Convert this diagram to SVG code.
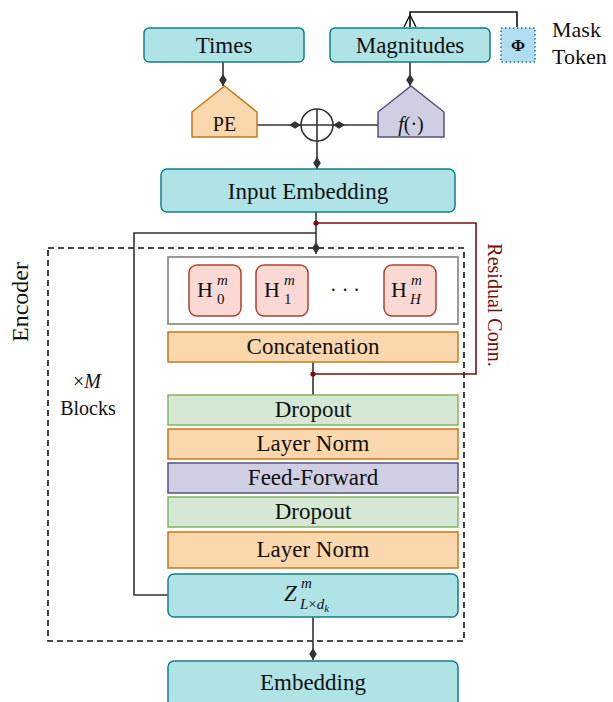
<svg xmlns="http://www.w3.org/2000/svg" width="613" height="702" viewBox="0 0 613 702" font-family="'Liberation Serif', 'DejaVu Serif', serif">
<style>
text{font-family:'Liberation Serif','DejaVu Serif',serif;fill:#111;}
.lbl{font-size:23px;text-anchor:middle;}
.teal{fill:#b0e3e6;stroke:#0e8088;stroke-width:1.5;}
.orange{fill:#fad7ac;stroke:#c7781a;stroke-width:1.5;}
.purple{fill:#d0cee2;stroke:#56517e;stroke-width:1.5;}
.green{fill:#d5e8d4;stroke:#82b366;stroke-width:1.5;}
.head{fill:#fad9d5;stroke:#ae4132;stroke-width:1.5;}
.conn{fill:none;stroke:#333;stroke-width:1.6;}
.res{fill:none;stroke:#7a0c0c;stroke-width:1.6;}
.it{font-style:italic;}
</style>
<defs>
<marker id="dia" markerUnits="userSpaceOnUse" markerWidth="14" markerHeight="10" viewBox="0 -5 14 10" refX="13" refY="0" orient="auto">
<path d="M1,0 L7,-3.8 L13,0 L7,3.8 Z" fill="#333"/>
</marker>
</defs>

<g id="encoder-frame">
<rect x="48" y="248" width="416" height="393" fill="none" stroke="#111" stroke-width="1.6" stroke-dasharray="6,4"/>
<text transform="translate(28,302) rotate(-90)" font-size="24" text-anchor="middle">Encoder</text>
<text x="87" y="388" font-size="20" text-anchor="middle">×<tspan class="it">M</tspan></text>
<text x="88" y="415" font-size="20" text-anchor="middle">Blocks</text>
</g>

<g id="connectors">
<path class="conn" d="M223,62 V86" marker-end="url(#dia)"/>
<path class="conn" d="M410,62 V86" marker-end="url(#dia)"/>
<path class="conn" d="M257,125 H301" marker-end="url(#dia)"/>
<path class="conn" d="M378,125 H333" marker-end="url(#dia)"/>
<path class="conn" d="M317,141 V169" marker-end="url(#dia)"/>
<path class="conn" d="M316,212 V254" marker-end="url(#dia)"/>
<path class="conn" d="M316,233 H134 V595 H168"/>
<path class="conn" d="M313,362 V395"/>
<path class="conn" d="M313,617 V660" marker-end="url(#dia)"/>
<path fill="none" stroke="#111" stroke-width="1.6" d="M517,27 V12 H410 V27"/>
<path fill="none" stroke="#111" stroke-width="1.4" d="M404,27 L410,15 L416,27"/>
<path class="res" d="M316,223 H476 V374 H313"/>
<circle cx="316" cy="223" r="2.6" fill="#7a0c0c"/>
<circle cx="313" cy="374" r="2.6" fill="#7a0c0c"/>
<text transform="translate(488,305) rotate(90)" font-size="20" text-anchor="middle" style="fill:#7a0c0c">Residual Conn.</text>
</g>

<g id="times">
<rect class="teal" x="144" y="28" width="160" height="34" rx="5"/>
<text class="lbl" x="224" y="53">Times</text>
</g>
<g id="magnitudes">
<rect class="teal" x="330" y="28" width="160" height="34" rx="5"/>
<text class="lbl" x="410" y="53">Magnitudes</text>
</g>
<g id="mask-token">
<rect x="501" y="28" width="34" height="34" fill="#b1ddf0" stroke="#10739e" stroke-width="1.5" stroke-dasharray="1.5,2.5"/>
<text x="518" y="51" font-size="17" font-weight="bold" text-anchor="middle">Φ</text>
<text x="552" y="37" font-size="22">Mask</text>
<text x="552" y="64" font-size="22">Token</text>
</g>
<g id="pe">
<path class="orange" d="M192,137 V112 L224.5,86 L257,112 V137 Z"/>
<text x="224.5" y="131" font-size="20" text-anchor="middle">PE</text>
</g>
<g id="f">
<path class="purple" d="M378,137 V112 L411,86 L444,112 V137 Z"/>
<text x="411" y="131" font-size="20" text-anchor="middle"><tspan class="it">f</tspan>(·)</text>
</g>
<g id="sum">
<circle cx="317" cy="125" r="16" fill="none" stroke="#333" stroke-width="1.6"/>
<path d="M301,125 H333 M317,109 V141" stroke="#333" stroke-width="1.6"/>
</g>
<g id="input-embedding">
<rect class="teal" x="161" y="169" width="294" height="43" rx="6"/>
<text class="lbl" x="308" y="199">Input Embedding</text>
</g>
<g id="attention">
<rect x="168" y="257" width="290" height="67" fill="#fff" stroke="#808080" stroke-width="1.6"/>
</g>
<g id="head0">
<rect class="head" x="189" y="265" width="52" height="51" rx="8"/>
<text x="197" y="297" font-size="22">H</text>
<text x="217" y="285" class="it" font-size="15">m</text>
<text x="217" y="304" font-size="15">0</text>
</g>
<g id="head1">
<rect class="head" x="256" y="265" width="52" height="51" rx="8"/>
<text x="264" y="297" font-size="22">H</text>
<text x="284" y="285" class="it" font-size="15">m</text>
<text x="284" y="304" font-size="15">1</text>
</g>
<g id="dots">
<text x="345" y="297" font-size="20" text-anchor="middle">· · ·</text>
</g>
<g id="headH">
<rect class="head" x="384" y="265" width="52" height="51" rx="8"/>
<text x="391" y="297" font-size="22">H</text>
<text x="411" y="285" class="it" font-size="15">m</text>
<text x="410" y="304" class="it" font-size="15">H</text>
</g>
<g id="concatenation">
<rect class="orange" x="168" y="332" width="290" height="30"/>
<text class="lbl" x="313" y="354">Concatenation</text>
</g>
<g id="dropout1">
<rect class="green" x="168" y="395" width="290" height="30"/>
<text class="lbl" x="313" y="417">Dropout</text>
</g>
<g id="layernorm1">
<rect class="orange" x="168" y="429" width="290" height="30"/>
<text class="lbl" x="313" y="451">Layer Norm</text>
</g>
<g id="feedforward">
<rect class="purple" x="168" y="463" width="290" height="30"/>
<text class="lbl" x="313" y="485">Feed-Forward</text>
</g>
<g id="dropout2">
<rect class="green" x="168" y="497" width="290" height="30"/>
<text class="lbl" x="313" y="519">Dropout</text>
</g>
<g id="layernorm2">
<rect class="orange" x="168" y="532" width="290" height="36"/>
<text class="lbl" x="313" y="557">Layer Norm</text>
</g>
<g id="z">
<rect class="teal" x="168" y="574" width="290" height="43" rx="6"/>
<text x="284" y="601" class="it" font-size="23">Z</text>
<text x="301" y="588" class="it" font-size="15">m</text>
<text x="300" y="609" font-size="15"><tspan class="it">L</tspan>×<tspan class="it">d</tspan><tspan class="it" font-size="11" dy="3">k</tspan></text>
</g>
<g id="embedding">
<rect class="teal" x="168" y="661" width="290" height="46" rx="6"/>
<text class="lbl" x="313" y="690">Embedding</text>
</g>
</svg>
